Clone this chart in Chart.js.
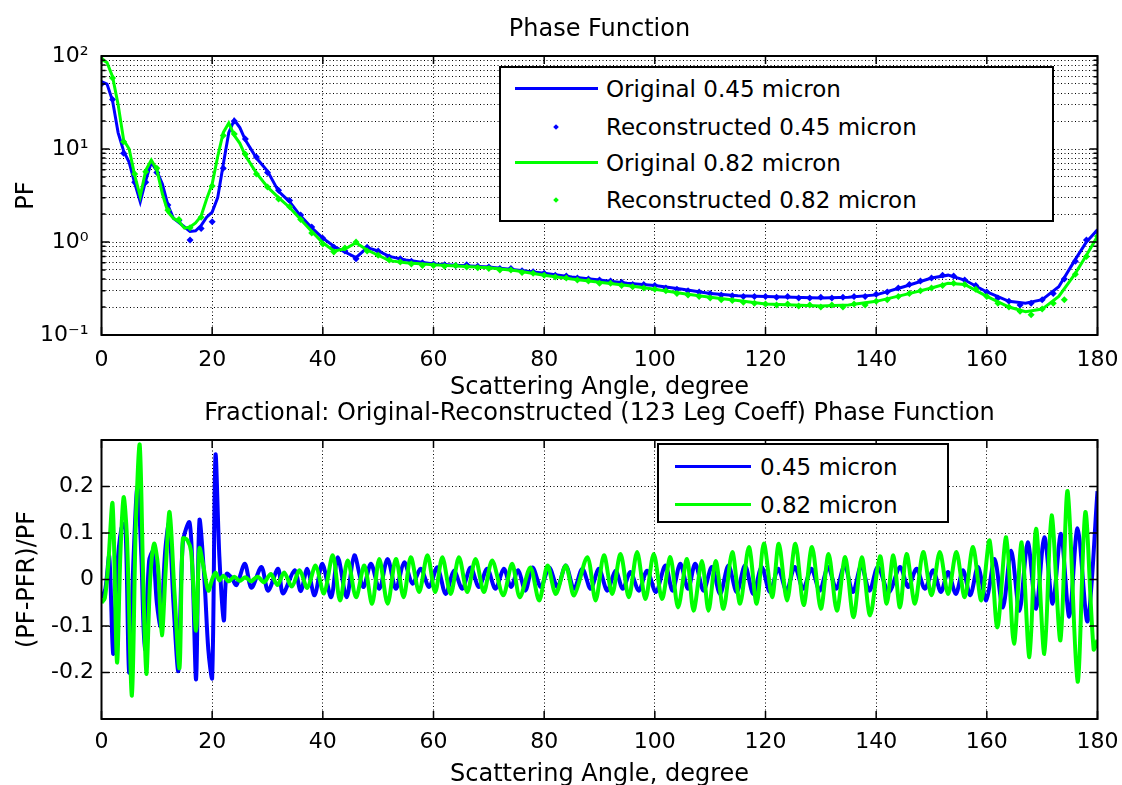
<!DOCTYPE html>
<html lang="en">
<head>
<meta charset="UTF-8">
<title>Phase Function - Legendre reconstruction</title>
<script src="https://cdn.jsdelivr.net/npm/chart.js@4.4.1/dist/chart.umd.min.js"></script>
<style>
  html, body { margin: 0; padding: 0; background: #fff; overflow: hidden; }
  body { position: relative; width: 1122px; height: 785px; font-family: 'DejaVu Sans', sans-serif; color: #000; }
  canvas { position: absolute; left: 0; }
  #pfChart { top: 0; }
  #fracChart { top: 390px; }
  .legend { position: absolute; background: #fff; border: 2px solid #000; box-sizing: border-box; font-size: 23px; }
  .legend .row { position: absolute; left: 0; right: 0; height: 30px; line-height: 30px; white-space: nowrap; }
  .legend .swatch { position: absolute; top: 13px; height: 3px; }
  .legend .dot { position: absolute; top: 13px; width: 4px; height: 4px; transform: rotate(45deg); }
  .legend .txt { position: absolute; top: 0; }
</style>
</head>
<body>
<canvas id="pfChart" width="1122" height="400"></canvas>
<canvas id="fracChart" width="1122" height="395"></canvas>

<div class="legend" style="left:499px; top:66px; width:555px; height:156px;">
  <div class="row" style="top:6px;"><span class="swatch" style="left:14px; width:83px; background:#0000ff;"></span><span class="txt" style="left:105px;">Original 0.45 micron</span></div>
  <div class="row" style="top:44px;"><span class="dot" style="left:53px; background:#0000ff;"></span><span class="txt" style="left:105px;">Reconstructed 0.45 micron</span></div>
  <div class="row" style="top:80px;"><span class="swatch" style="left:14px; width:83px; background:#00ff00;"></span><span class="txt" style="left:105px;">Original 0.82 micron</span></div>
  <div class="row" style="top:117px;"><span class="dot" style="left:53px; background:#00ff00;"></span><span class="txt" style="left:105px;">Reconstructed 0.82 micron</span></div>
</div>

<div class="legend" style="left:657px; top:443px; width:292px; height:80px;">
  <div class="row" style="top:7px;"><span class="swatch" style="left:16px; width:76px; background:#0000ff;"></span><span class="txt" style="left:101px;">0.45 micron</span></div>
  <div class="row" style="top:45px;"><span class="swatch" style="left:16px; width:76px; background:#00ff00;"></span><span class="txt" style="left:101px;">0.82 micron</span></div>
</div>

<script>
    // ---- values ----
    const angleTicks = [0, 20, 40, 60, 80, 100, 120, 140, 160, 180];

    const pfGridTicks = [0.1, 0.2, 0.3, 0.4, 0.5, 0.6, 0.7, 0.8, 0.9,
                         1, 2, 3, 4, 5, 6, 7, 8, 9,
                         10, 20, 30, 40, 50, 60, 70, 80, 90, 100];
    const pfMajorTicks = [0.1, 1, 10, 100];
    const pfMajorLabels = ['10⁻¹', '10⁰', '10¹', '10²'];

    // original phase functions (solid lines)
    const pfAngles = [0, 1, 2, 3, 4, 5, 6, 7, 8, 9, 10, 11, 12, 13, 14, 15, 16, 17, 18, 19, 20, 21, 22, 23, 24, 25, 26,
                      28, 30, 32, 34, 36, 38, 40, 42, 44, 46, 48, 50, 52,
                      55, 60, 65, 70, 75, 80, 85, 90, 95, 100, 105, 110, 115, 120, 125, 130, 135, 140, 145, 150,
                      153, 156, 160, 164, 167, 170, 173, 176, 178, 180];
    const pfOrig045 = [53, 50, 33, 15, 9.5, 7.2, 4.3, 2.7, 4.6, 7.2, 5.8, 4.2, 2.5, 1.8, 1.62, 1.45, 1.3, 1.32, 1.5, 1.85, 2.1, 3.0, 6.8, 15, 20.5, 17, 12.5,
                       8.0, 5.8, 3.5, 2.7, 1.9, 1.42, 1.1, 0.9, 0.78, 0.68, 0.87, 0.8, 0.7,
                       0.64, 0.58, 0.56, 0.54, 0.5, 0.46, 0.42, 0.39, 0.36, 0.34, 0.31, 0.28, 0.265, 0.26, 0.255, 0.25, 0.255, 0.27, 0.33, 0.41,
                       0.44, 0.39, 0.29, 0.23, 0.22, 0.24, 0.33, 0.65, 1.0, 1.35];
    const pfOrig082 = [92, 85, 60, 30, 12.5, 10, 5.2, 3.1, 5.9, 7.6, 6.0, 3.3, 2.1, 1.8, 1.65, 1.41, 1.45, 1.6, 1.9, 2.9, 4.2, 8.3, 15, 19, 14, 11.5, 8.5,
                       5.5, 3.9, 3.0, 2.35, 1.75, 1.3, 0.98, 0.8, 0.84, 0.98, 0.82, 0.72, 0.63,
                       0.6, 0.57, 0.55, 0.53, 0.49, 0.44, 0.40, 0.37, 0.34, 0.31, 0.28, 0.255, 0.235, 0.215, 0.21, 0.205, 0.21, 0.23, 0.27, 0.32,
                       0.36, 0.35, 0.26, 0.2, 0.178, 0.19, 0.26, 0.46, 0.72, 1.15];

    // reconstructed phase functions (markers)
    const reconAngles = [0, 2, 4, 6, 8, 10, 12, 14, 16, 18, 20, 22, 24, 26, 28, 30, 32, 34, 36, 38,
                         40, 42, 44, 46, 48, 50, 52, 54, 56, 58, 60, 62, 64, 66, 68, 70, 72, 74, 76, 78,
                         80, 82, 84, 86, 88, 90, 92, 94, 96, 98, 100, 102, 104, 106, 108, 110, 112, 114, 116, 118,
                         120, 122, 124, 126, 128, 130, 132, 134, 136, 138, 140, 142, 144, 146, 148, 150, 152, 154, 156, 158,
                         160, 162, 164, 166, 168, 170, 172, 174, 176, 178, 180];
    const pfRecon045 = [50, 34, 9.0, 4.4, 4.4, 5.6, 2.5, 1.7, 1.05, 1.4,
                        1.65, 6.2, 20, 12.8, 8.2, 5.6, 3.6, 2.8, 1.95, 1.45,
                        1.1, 0.88, 0.8, 0.66, 0.88, 0.8, 0.69, 0.66, 0.62, 0.6,
                        0.58, 0.57, 0.56, 0.57, 0.55, 0.54, 0.52, 0.52, 0.49, 0.48,
                        0.46, 0.44, 0.43, 0.41, 0.4, 0.39, 0.38, 0.37, 0.35, 0.35,
                        0.34, 0.32, 0.31, 0.3, 0.29, 0.28, 0.27, 0.265, 0.26, 0.26,
                        0.26, 0.255, 0.26, 0.25, 0.25, 0.255, 0.25, 0.255, 0.26, 0.26,
                        0.275, 0.29, 0.32, 0.35, 0.38, 0.41, 0.44, 0.43, 0.39, 0.34,
                        0.29, 0.25, 0.23, 0.21, 0.22, 0.24, 0.28, 0.4, 0.62, 1.05,
                        1.3];
    const pfRecon082 = [92, 58, 12, 5.4, 5.7, 6.2, 2.2, 1.75, 1.42, 1.85,
                        4.0, 14, 14.5, 8.8, 5.4, 3.9, 2.9, 2.4, 1.75, 1.25,
                        0.95, 0.78, 0.86, 1.0, 0.8, 0.72, 0.64, 0.61, 0.58, 0.56,
                        0.56, 0.55, 0.56, 0.54, 0.53, 0.52, 0.5, 0.5, 0.47, 0.46,
                        0.44, 0.42, 0.41, 0.39, 0.38, 0.36, 0.36, 0.34, 0.33, 0.32,
                        0.31, 0.3, 0.28, 0.27, 0.26, 0.25, 0.24, 0.235, 0.225, 0.22,
                        0.215, 0.21, 0.215, 0.205, 0.21, 0.2, 0.21, 0.2, 0.215, 0.21,
                        0.23, 0.24, 0.26, 0.28, 0.3, 0.32, 0.34, 0.36, 0.35, 0.31,
                        0.26, 0.22, 0.2, 0.18, 0.165, 0.19, 0.22, 0.24, 0.45, 0.7,
                        1.15];

    // fractional difference (PF-PFR)/PF
    const fracTicks = [-0.2, -0.1, 0, 0.1, 0.2];
    const fracTickLabels = ['-0.2', '-0.1', '0', '0.1', '0.2'];

    const fracAng045 = [0, 0.7, 1.4, 2.1, 2.8, 3.6, 4.3, 5.0, 5.8, 6.5,
                        7.2, 7.8, 8.6, 9.3, 10.0, 10.7, 11.5, 12.2, 13.0, 13.9,
                        14.7, 15.9, 16.5, 17.1, 17.7, 18.6, 19.3, 20.0, 20.6, 21.3,
                        22.1, 22.6, 23.5, 24.4, 25.9, 27.1, 28.9, 30.1, 31.9, 32.8,
                        34.9, 36.0, 37.2, 38.5, 39.9, 41.5, 42.7, 44.3, 45.7, 47.3,
                        48.7, 50.2, 51.7, 53.2, 54.7, 56.2, 57.7, 59.2, 60.7, 62.2,
                        63.7, 65.2, 66.7, 68.2, 69.7, 71.2, 72.7, 74.0, 75.3, 76.6,
                        77.9, 79.4, 80.9, 82.4, 83.9, 85.4, 86.9, 88.4, 89.9, 91.4,
                        92.9, 94.2, 95.6, 97.1, 98.6, 100.2, 101.9, 103.2, 104.6, 106.0,
                        107.3, 108.8, 110.3, 111.8, 113.3, 114.8, 116.3, 117.8, 119.3, 120.8,
                        122.3, 123.8, 125.3, 126.8, 128.3, 129.8, 131.3, 132.8, 134.3, 135.8,
                        137.3, 138.8, 140.3, 142.3, 144.3, 145.8, 147.3, 148.8, 150.3, 151.7,
                        153.0, 154.4, 155.7, 157.0, 158.4, 159.9, 161.4, 162.9, 164.4, 165.9,
                        167.4, 168.9, 170.4, 171.9, 173.4, 174.9, 176.4, 178.2, 180];
    const fracVal045 = [-0.04, -0.02, 0.05, -0.16, 0.02, 0.11, 0.12, -0.2, 0.05, 0.2,
                        0.05, -0.15, 0.04, 0.06, -0.05, -0.1, 0.06, 0.12, -0.05, -0.196,
                        0.08, 0.123, 0.0, -0.214, 0.127, 0.0, -0.15, -0.211, 0.267, 0.05,
                        -0.088, 0.012, 0.004, -0.012, 0.034, -0.018, 0.027, -0.024, 0.023, -0.03,
                        0.02, -0.025, 0.023, -0.034, 0.034, -0.038, 0.048, -0.038, 0.052, -0.016,
                        0.034, -0.02, 0.044, -0.02, 0.037, -0.009, 0.023, -0.016, 0.026, -0.031,
                        0.019, -0.02, 0.026, -0.016, 0.023, -0.02, 0.023, -0.016, 0.02, -0.024,
                        0.026, -0.016, 0.026, -0.016, 0.03, -0.02, 0.023, -0.02, 0.023, -0.024,
                        0.019, -0.02, 0.016, -0.024, 0.019, -0.027, 0.03, -0.024, 0.034, -0.02,
                        0.034, -0.024, 0.027, -0.031, 0.03, -0.027, 0.03, -0.031, 0.027, -0.027,
                        0.023, -0.024, 0.027, -0.02, 0.023, -0.024, 0.027, -0.02, 0.03, -0.027,
                        0.03, -0.024, 0.027, -0.027, 0.027, -0.016, 0.023, -0.02, 0.02, -0.027,
                        0.016, -0.031, 0.02, -0.034, 0.027, -0.045, 0.044, -0.06, 0.062, -0.067,
                        0.08, -0.063, 0.091, -0.052, 0.098, -0.08, 0.11, -0.09, 0.19];

    const fracAng082 = [0, 0.6, 1.2, 2.0, 2.8, 3.4, 4.0, 4.6, 5.5, 6.2,
                        6.9, 7.5, 8.1, 8.8, 9.5, 10.2, 10.9, 11.6, 12.3, 13.2,
                        14.1, 14.7, 15.5, 16.2, 17.1, 17.7, 18.4, 19.3, 20.0, 20.6,
                        21.3, 22.0, 23.0, 24.0, 25.0, 26.0, 27.0, 28.2, 29.4, 30.6,
                        31.8, 33.0, 34.4, 35.8, 37.2, 38.7, 40.2, 41.8, 43.1, 44.5,
                        46.0, 47.5, 48.9, 50.2, 51.7, 53.2, 54.6, 55.9, 57.4, 58.9,
                        60.3, 61.6, 63.1, 64.6, 66.1, 67.6, 69.1, 70.6, 72.6, 74.2,
                        75.6, 77.5, 79.1, 80.6, 82.1, 83.9, 85.4, 87.8, 89.3, 90.8,
                        92.3, 93.8, 95.3, 96.8, 98.3, 99.8, 101.3, 102.8, 104.2, 105.8,
                        107.0, 108.5, 109.7, 111.0, 112.4, 114.0, 115.4, 117.0, 118.4, 119.7,
                        121.2, 122.4, 123.9, 125.4, 126.9, 128.4, 130.0, 131.4, 132.9, 134.4,
                        135.9, 137.4, 138.9, 140.7, 141.9, 143.1, 144.3, 145.5, 147.0, 148.5,
                        150.0, 151.5, 153.0, 154.5, 156.0, 157.5, 159.0, 160.5, 161.9, 163.5,
                        164.9, 166.3, 167.7, 168.9, 170.4, 171.7, 173.3, 174.6, 176.4, 177.8,
                        179.3, 180];
    const fracVal082 = [-0.05, -0.04, 0.03, 0.163, -0.178, 0.05, 0.177, 0.09, -0.25, 0.12,
                        0.29, 0.02, -0.203, 0.0, 0.077, 0.03, -0.12, 0.02, 0.145, -0.03,
                        -0.19, 0.088, 0.085, 0.06, -0.11, 0.067, 0.03, -0.024, 0.0, 0.015,
                        -0.002, 0.008, -0.004, 0.006, -0.003, 0.005, -0.004, 0.006, -0.006, 0.012,
                        -0.012, 0.015, -0.015, 0.02, -0.018, 0.03, -0.03, 0.052, -0.045, 0.041,
                        -0.038, 0.03, -0.052, 0.044, -0.052, 0.044, -0.038, 0.048, -0.027, 0.052,
                        -0.027, 0.048, -0.031, 0.048, -0.027, 0.044, -0.027, 0.041, -0.034, 0.034,
                        -0.038, 0.026, -0.045, 0.03, -0.031, 0.03, -0.034, 0.048, -0.045, 0.052,
                        -0.031, 0.055, -0.038, 0.059, -0.042, 0.055, -0.042, 0.048, -0.06, 0.044,
                        -0.067, 0.04, -0.067, 0.04, -0.063, 0.059, -0.052, 0.07, -0.052, 0.077,
                        -0.038, 0.077, -0.045, 0.077, -0.055, 0.07, -0.063, 0.055, -0.067, 0.048,
                        -0.081, 0.048, -0.077, 0.05, -0.052, 0.052, -0.06, 0.055, -0.052, 0.059,
                        -0.034, 0.059, -0.031, 0.059, -0.038, 0.07, -0.045, 0.084, -0.103, 0.091,
                        -0.138, 0.08, -0.167, 0.109, -0.16, 0.138, -0.131, 0.19, -0.22, 0.145,
                        -0.15, -0.13];

    const BLUE = '#0000ff';
    const GREEN = '#00ff00';

    Chart.defaults.font.family = "'DejaVu Sans', sans-serif";
    Chart.defaults.color = '#000';

    function pts(xs, ys) {
        return xs.map((x, i) => ({ x: x, y: ys[i] }));
    }

    // matlab style box around the axes with inward tick marks on all four sides
    const boxTicks = {
        id: 'boxTicks',
        afterDraw(chart, args, opts) {
            const { ctx, chartArea: a } = chart;
            const xs = chart.scales.x, ys = chart.scales.y;
            const major = opts.major || [];
            ctx.save();
            ctx.strokeStyle = '#000';
            ctx.lineWidth = 1.5;
            ctx.beginPath();
            xs.ticks.forEach(t => {
                const px = xs.getPixelForValue(t.value);
                ctx.moveTo(px, a.bottom); ctx.lineTo(px, a.bottom - 8);
                ctx.moveTo(px, a.top); ctx.lineTo(px, a.top + 8);
            });
            ys.ticks.forEach(t => {
                const py = ys.getPixelForValue(t.value);
                const len = major.includes(t.value) ? 8 : 4;
                ctx.moveTo(a.left, py); ctx.lineTo(a.left + len, py);
                ctx.moveTo(a.right, py); ctx.lineTo(a.right - len, py);
            });
            ctx.stroke();
            ctx.lineWidth = 2;
            ctx.strokeRect(a.left, a.top, a.right - a.left, a.bottom - a.top);
            ctx.restore();
        }
    };

    function angleAxis(height, labelPad, titlePad, titleLine) {
        return {
            type: 'linear', min: 0, max: 180,
            afterBuildTicks: s => { s.ticks = angleTicks.map(v => ({ value: v })); },
            afterFit: s => { s.height = height; s.paddingLeft = 0; s.paddingRight = 0; },
            ticks: { autoSkip: false, maxRotation: 0, padding: labelPad, font: { size: 22 } },
            grid: { color: '#000', lineWidth: 1, drawTicks: false },
            border: { display: false, dash: [1, 2.5] },
            title: { display: true, text: 'Scattering Angle, degree', font: { size: 24, lineHeight: titleLine }, padding: { top: 0, bottom: titlePad } }
        };
    }

    new Chart(document.getElementById('pfChart'), {
        type: 'line',
        data: {
            datasets: [
                { label: 'Original 0.45 micron', data: pts(pfAngles, pfOrig045), borderColor: BLUE, borderWidth: 3, pointRadius: 0, order: 3 },
                { label: 'Reconstructed 0.45 micron', data: pts(reconAngles, pfRecon045), showLine: false, pointStyle: 'rectRot', pointRadius: 3.5, backgroundColor: BLUE, borderColor: BLUE, borderWidth: 0, order: 2 },
                { label: 'Original 0.82 micron', data: pts(pfAngles, pfOrig082), borderColor: GREEN, borderWidth: 3, pointRadius: 0, order: 1 },
                { label: 'Reconstructed 0.82 micron', data: pts(reconAngles, pfRecon082), showLine: false, pointStyle: 'rectRot', pointRadius: 3.5, backgroundColor: GREEN, borderColor: GREEN, borderWidth: 0, order: 0 }
            ]
        },
        options: {
            responsive: false,
            animation: false,
            layout: { padding: { left: 0, right: 24.5, top: 0, bottom: 0 } },
            plugins: {
                legend: { display: false },
                tooltip: { enabled: false },
                title: { display: true, text: 'Phase Function', fullSize: false, color: '#000',
                         font: { size: 24, weight: 'normal', lineHeight: 1 }, padding: { top: 18, bottom: 14 } },
                boxTicks: { major: pfMajorTicks }
            },
            scales: {
                x: angleAxis(65, 12, 0, 1),
                y: {
                    type: 'logarithmic', min: 0.1, max: 100,
                    afterBuildTicks: s => { s.ticks = pfGridTicks.map(v => ({ value: v })); },
                    afterFit: s => { s.width = 101.5; },
                    ticks: {
                        autoSkip: false, padding: 13, font: { size: 22 },
                        callback: v => { const i = pfMajorTicks.indexOf(v); return i < 0 ? '' : pfMajorLabels[i]; }
                    },
                    grid: { color: '#000', lineWidth: 1, drawTicks: false },
                    border: { display: false, dash: [1, 2.5] },
                    title: { display: true, text: 'PF', font: { size: 24, lineHeight: 1 }, padding: { top: 15, bottom: 0 } }
                }
            }
        },
        plugins: [boxTicks]
    });

    new Chart(document.getElementById('fracChart'), {
        type: 'line',
        data: {
            datasets: [
                { label: '0.45 micron', data: pts(fracAng045, fracVal045), borderColor: BLUE, borderWidth: 4, pointRadius: 0, tension: 0.3, order: 1 },
                { label: '0.82 micron', data: pts(fracAng082, fracVal082), borderColor: GREEN, borderWidth: 4, pointRadius: 0, tension: 0.3, order: 0 }
            ]
        },
        options: {
            responsive: false,
            animation: false,
            layout: { padding: { left: 0, right: 24.5, top: 0, bottom: 0 } },
            plugins: {
                legend: { display: false },
                tooltip: { enabled: false },
                title: { display: true, text: 'Fractional: Original-Reconstructed (123 Leg Coeff) Phase Function', fullSize: false, color: '#000',
                         font: { size: 24, weight: 'normal', lineHeight: 1 }, padding: { top: 12, bottom: 14 } },
                boxTicks: { major: fracTicks }
            },
            scales: {
                x: angleAxis(66, 10, 0, 0.84),
                y: {
                    type: 'linear', min: -0.3, max: 0.3,
                    afterBuildTicks: s => { s.ticks = fracTicks.map(v => ({ value: v })); },
                    afterFit: s => { s.width = 101.5; },
                    ticks: {
                        autoSkip: false, padding: 7.5, font: { size: 22 },
                        callback: v => { const i = fracTicks.indexOf(v); return i < 0 ? '' : fracTickLabels[i]; }
                    },
                    grid: { color: '#000', lineWidth: 1, drawTicks: false },
                    border: { display: false, dash: [1, 2.5] },
                    title: { display: true, text: '(PF-PFR)/PF', font: { size: 24, lineHeight: 1 }, padding: { top: 16, bottom: 0 } }
                }
            }
        },
        plugins: [boxTicks]
    });
</script>
</body>
</html>
